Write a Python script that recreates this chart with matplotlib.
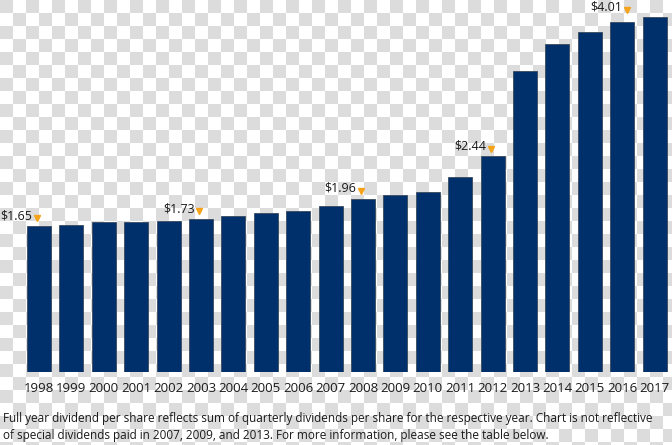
import numpy as np
import matplotlib.pyplot as plt
from matplotlib.colors import ListedColormap

# Dividendos anuais por ação
anos = list(range(1998, 2018))
dividendos = [1.65, 1.665, 1.69, 1.70, 1.71, 1.73, 1.76, 1.80, 1.82, 1.875,
              1.96, 2.00, 2.03, 2.20, 2.44, 3.40, 3.71, 3.84, 3.95, 4.01]
anos_rotulados = [1998, 2003, 2008, 2012, 2017]

nota = ("Full year dividend per share reflects sum of quarterly dividends per share for the respective year. Chart is not reflective\n"
        "of special dividends paid in 2007, 2009, and 2013. For more information, please see the table below.")

azul = "#00306b"
laranja = "#f5a31a"
fonte = "Open Sans"

fig = plt.figure(figsize=(6.72, 4.45), dpi=100)

# fundo quadriculado (imagem transparente)
fundo = fig.add_axes([0, 0, 1, 1], zorder=-10)
lin, col = np.indices((35, 52))
fundo.imshow((lin + col + 1) % 2, cmap=ListedColormap(["white", "#dcdcdc"]),
             extent=[0, 52 * 13, 35 * 13, 0], interpolation="nearest")
fundo.set_xlim(0, 672)
fundo.set_ylim(445, 0)
fundo.axis("off")

ax = fig.add_axes([0, 73 / 445, 1, 372 / 445])
ax.patch.set_alpha(0)
x = np.arange(len(anos))
ax.bar(x, dividendos, width=0.74, color=azul, edgecolor="#3a4a5e", linewidth=0.6)

ax.set_xlim((0 - 39) / 32.4, (672 - 39) / 32.4)
ax.set_ylim(0, 372 / 88.5)

for ano in anos_rotulados:
    i = anos.index(ano)
    v = dividendos[i]
    # o último rótulo fica deslocado para a esquerda para caber na imagem
    xr = i - 0.8 if ano == anos[-1] else i
    ax.text(xr - 0.2, v + 0.04, f"${v:.2f}", ha="right", va="bottom",
            fontsize=9, family=fonte, color="#1a1a1a")
    ax.plot(xr - 0.05, v + 0.085, marker="v", color=laranja, markersize=3.8,
            clip_on=False)

ax.set_xticks(x)
ax.set_xticklabels([str(a) for a in anos], fontsize=9.5, family=fonte, color="#1a1a1a")
ax.tick_params(axis="x", length=0, pad=7)
ax.set_yticks([])
for lado in ax.spines.values():
    lado.set_visible(False)

fig.text(3 / 672, 1 - 412 / 445, nota, ha="left", va="top", fontsize=8.5,
         family=fonte, color="#1a1a1a", linespacing=1.35)

fig.savefig("out.png", dpi=100)
